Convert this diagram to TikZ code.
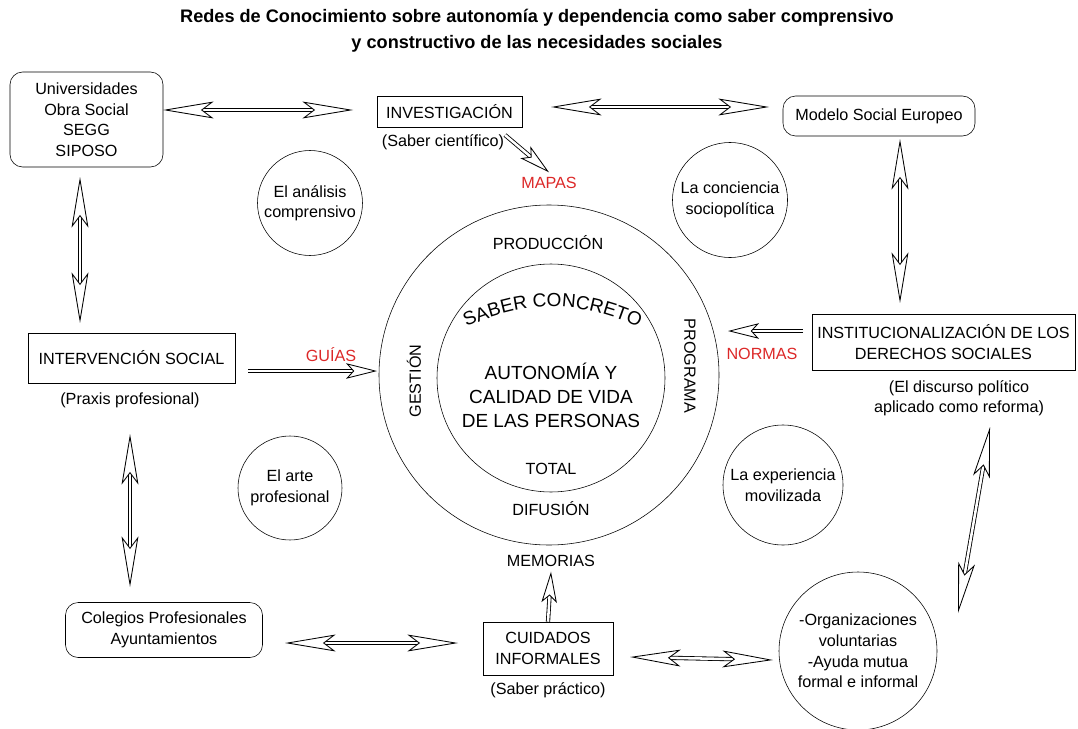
\documentclass[tikz,border=0pt]{standalone}
\usepackage{fontspec}
\setmainfont{Liberation Sans}
\usetikzlibrary{arrows.meta,decorations.text,positioning}

\newcommand{\pu}{0.025cm}
\newcommand{\dfont}{\fontsize{11.5}{14.6}\selectfont}
\newcommand{\ringfont}{\fontsize{13.5}{17}\selectfont}

\tikzset{
  box/.style={draw, rectangle, align=center, inner sep=2pt},
  rbox/.style={box, rounded corners=9pt},
  idea/.style={draw, circle, align=center, inner sep=0pt},
  lbl/.style={align=center},
  redlbl/.style={text={rgb,255:red,220;green,40;blue,40}},
  dtip/.tip={Stealth[open, fill=white, length=36pt, width=12pt, inset=8pt]},
  stip/.tip={Stealth[open, fill=white, length=22pt, width=11pt, inset=5pt]},
  dbl/.style={double=white, double distance=1.8pt, line width=0.6pt, {dtip}-{dtip}},
  one/.style={double=white, double distance=1.8pt, line width=0.6pt, -{stip}}
}

\begin{document}
\begin{tikzpicture}[x=\pu, y=\pu, font=\dfont]
  \useasboundingbox (0,0) rectangle (1078,-729);

  % title
  \node[lbl, font=\fontsize{12.9}{18.5}\selectfont\bfseries] (title) at (537,-31)
    {Redes de Conocimiento sobre autonomía y dependencia como saber comprensivo\\
     y constructivo de las necesidades sociales};

  % boxes
  \node[rbox, minimum width=153*\pu, minimum height=95*\pu] (univ) at (86.5,-119.5)
    {Universidades\\Obra Social\\SEGG\\SIPOSO};
  \node[box, minimum width=145*\pu, minimum height=31*\pu] (inv) at (449.5,-111.5) {INVESTIGACIÓN};
  \node[rbox, minimum width=192*\pu, minimum height=40*\pu] (modelo) at (879,-116) {Modelo Social Europeo};
  \node[box, minimum width=207*\pu, minimum height=50*\pu] (interv) at (131.5,-358) {INTERVENCIÓN SOCIAL};
  \node[box, minimum width=263*\pu, minimum height=56*\pu] (inst) at (943.5,-342)
    {INSTITUCIONALIZACIÓN DE LOS\\DERECHOS SOCIALES};
  \node[rbox, minimum width=197*\pu, minimum height=55*\pu] (coleg) at (164,-630)
    {Colegios Profesionales\\Ayuntamientos};
  \node[box, minimum width=130*\pu, minimum height=53*\pu] (cuid) at (548,-648.5)
    {CUIDADOS\\INFORMALES};

  % sub labels
  \node[lbl] (cient) at (443,-142) {(Saber científico)};
  \node[lbl] (praxis) at (130,-400) {(Praxis profesional)};
  \node[lbl] (disc) at (959,-398) {(El discurso político\\aplicado como reforma)};
  \node[lbl] (pract) at (548,-690) {(Saber práctico)};

  % circles
  \node[idea, minimum size=105*\pu] (anal) at (310,-203) {El análisis\\comprensivo};
  \node[idea, minimum size=115*\pu] (conc) at (730,-200) {La conciencia\\sociopolítica};
  \node[idea, minimum size=104*\pu] (arte) at (290,-488) {El arte\\profesional};
  \node[idea, minimum size=120*\pu] (exper) at (783,-485) {La experiencia\\movilizada};
  \node[idea, minimum size=158*\pu] (org) at (858,-651)
    {-Organizaciones\\voluntarias\\-Ayuda mutua\\formal e informal};

  % centre
  \node[idea, minimum size=340*\pu] (outer) at (549,-375) {};
  \node[idea, minimum size=228*\pu] (inner) at (551,-378) {};
  \node[lbl, font=\ringfont] (auto) at (551,-395) {AUTONOMÍA Y\\CALIDAD DE VIDA\\DE LAS PERSONAS};
  \node (total) at (551,-469) {TOTAL};
  \node (prod) at (548,-243) {PRODUCCIÓN};
  \node (difu) at (551,-509) {DIFUSIÓN};
  \node[rotate=90] (gest) at (414,-381) {GESTIÓN};
  \node[rotate=-90] (prog) at (690,-366) {PROGRAMA};
  \path[decorate, decoration={text along path, text align=center,
      text={|\ringfont|SABER CONCRETO}}] (458,-331) to[bend left=26] (647,-331);

  % red labels
  \node[redlbl] (mapas) at (549,-183) {MAPAS};
  \node[redlbl] (guias) at (331,-355) {GUÍAS};
  \node[redlbl] (normas) at (762,-354) {NORMAS};
  \node (memo) at (551,-561) {MEMORIAS};

  % arrow ends
  \coordinate (a1) at (163,-110);  \coordinate (b1) at (353,-110);
  \coordinate (a2) at (551,-107);  \coordinate (b2) at (769,-107);
  \coordinate (a3) at (80,-177);   \coordinate (b3) at (80,-323);
  \coordinate (a4) at (900,-139);  \coordinate (b4) at (900,-303);
  \coordinate (a5) at (130,-434);  \coordinate (b5) at (130,-587);
  \coordinate (a6) at (990,-427);  \coordinate (b6) at (958,-613);
  \coordinate (a7) at (285,-643);  \coordinate (b7) at (458,-643);
  \coordinate (a8) at (630,-657);  \coordinate (b8) at (773,-660);

  \draw[dbl] (a1) -- (b1);
  \draw[dbl] (a2) -- (b2);
  \draw[dbl] (a3) -- (b3);
  \draw[dbl] (a4) -- (b4);
  \draw[dbl] (a5) -- (b5);
  \draw[dbl] (a6) -- (b6);
  \draw[dbl] (a7) -- (b7);
  \draw[dbl] (a8) -- (b8);

  % one way arrows
  \coordinate (m1) at (505,-135);
  \coordinate (g1) at (248,-371);  \coordinate (g2) at (377,-371);
  \coordinate (n1) at (803,-331);  \coordinate (n2) at (728,-331);
  \draw[one] (m1) -- (mapas.north);
  \draw[one] (g1) -- (g2);
  \draw[one] (n1) -- (n2);
  \draw[one] (cuid.north) -- (memo.south);
\end{tikzpicture}
\end{document}
